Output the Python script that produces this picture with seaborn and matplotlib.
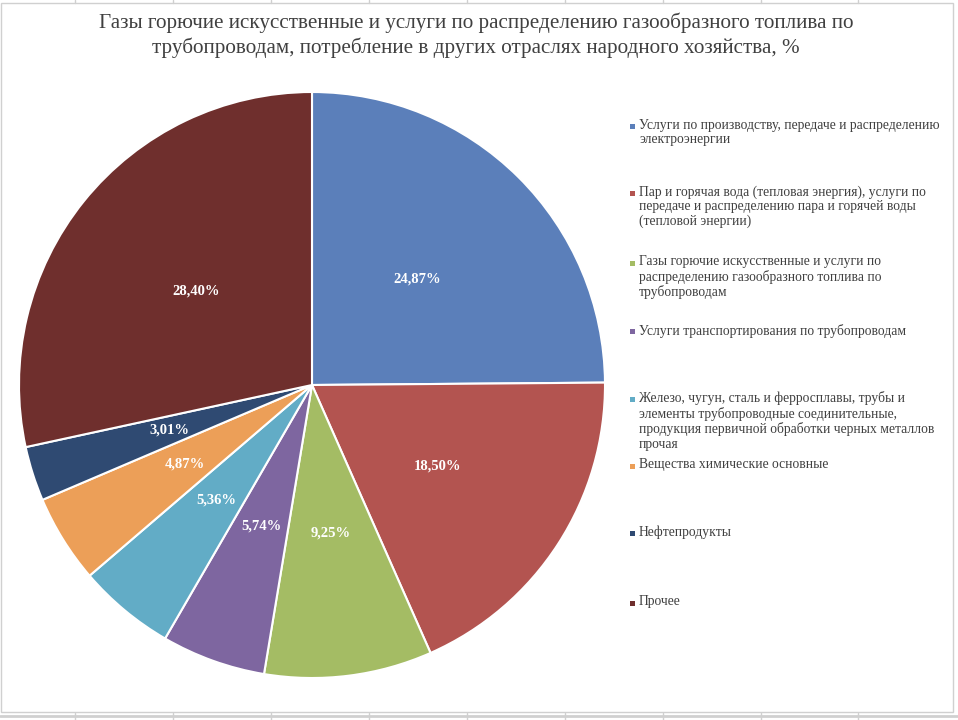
import numpy as np
import matplotlib
matplotlib.use("Agg")
import matplotlib.pyplot as plt
import seaborn as sns
from matplotlib.patches import Rectangle
from matplotlib.lines import Line2D

sns.set_theme(style="white")
plt.rcParams['font.family'] = ['Liberation Serif', 'DejaVu Serif']

title = ("Газы горючие искусственные и услуги по распределению газообразного топлива по\n"
         "трубопроводам, потребление в других отраслях народного хозяйства, %")

categories = [
    "Услуги по производству, передаче и распределению\nэлектроэнергии",
    "Пар и горячая вода (тепловая энергия), услуги по\nпередаче и распределению пара и горячей воды\n(тепловой энергии)",
    "Газы горючие искусственные и услуги по\nраспределению газообразного топлива по\nтрубопроводам",
    "Услуги транспортирования по трубопроводам",
    "Железо, чугун, сталь и ферросплавы, трубы и\nэлементы трубопроводные соединительные,\nпродукция первичной обработки черных металлов\nпрочая",
    "Вещества химические основные",
    "Нефтепродукты",
    "Прочее",
]
values = [24.87, 18.50, 9.25, 5.74, 5.36, 4.87, 3.01, 28.40]
colors = ["#5B7FBA", "#B35450", "#A4BC64", "#7E66A0", "#62ACC6", "#EC9F58", "#2F4A72", "#6F2F2D"]

# vertical position of legend entries (figure pixels from top)
legend_y = [126, 193, 263, 331, 399, 466, 533, 603]

W, H = 958, 720
fig = plt.figure(figsize=(W / 100, H / 100), dpi=100)
fig.patch.set_facecolor("white")

cx, cy, r = 312, 385, 293
ax = fig.add_axes([(cx - r) / W, 1 - (cy + r) / H, 2 * r / W, 2 * r / H])
wedges, _, autotexts = ax.pie(values, colors=colors, startangle=90, counterclock=False,
                              wedgeprops=dict(edgecolor="white", linewidth=1.5), radius=1,
                              autopct=lambda p: f"{p:.2f}%".replace(".", ","), pctdistance=0.51,
                              textprops=dict(color="white", fontsize=10.5, fontweight="bold"))
ax.set_xlim(-1, 1)
ax.set_ylim(-1, 1)
ax.set_aspect("equal")
ax.axis("off")

fig.text(476 / W, 1 - 35.5 / H, title, ha="center", va="center", fontsize=15.2,
         color="#404040", linespacing=1.26)

for cat, col, y in zip(categories, colors, legend_y):
    fig.patches.append(Rectangle((630 / W, 1 - (y + 2.5) / H), 5 / W, 5 / H,
                                 transform=fig.transFigure, facecolor=col, edgecolor="none"))
    fig.text(639 / W, 1 - (y - 7.5) / H, cat, ha="left", va="top", fontsize=9.8,
             color="#404040", linespacing=1.13)

# chart border and the sheet grid around it
fig.patches.append(Rectangle((1 / W, 1 - 712 / H), 952 / W, 709 / H, transform=fig.transFigure,
                             facecolor="none", edgecolor="#D0D0D0", linewidth=1))
grid_x = [74.5, 173, 270.6, 369, 466.7, 564.5, 663, 760.6, 858]
fig.lines.append(Line2D([0, 1], [1 - 716 / H] * 2, transform=fig.transFigure,
                        color="#D0D0D0", linewidth=2))
for gx in grid_x:
    fig.lines.append(Line2D([gx / W] * 2, [0, 1 - 713 / H], transform=fig.transFigure,
                            color="#D0D0D0", linewidth=1))
    fig.lines.append(Line2D([gx / W] * 2, [1 - 3 / H, 1], transform=fig.transFigure,
                            color="#D0D0D0", linewidth=1))

fig.savefig("out.png", dpi=100)
